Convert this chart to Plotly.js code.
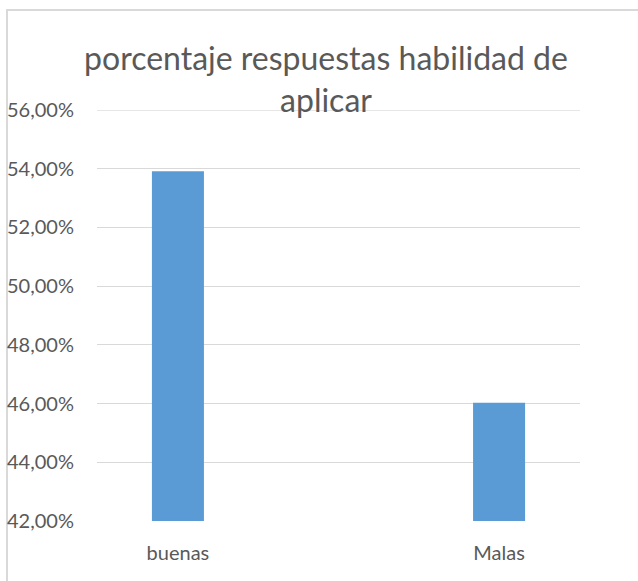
<!DOCTYPE html>
<html>
<head>
<meta charset="utf-8">
<script src="https://cdn.plot.ly/plotly-3.0.1.min.js"></script>
<style>
  html, body { margin: 0; padding: 0; background: #fff; }
  #frame { position: absolute; left: 6px; top: 9px; width: 640px; height: 580px;
           border-left: 2px solid #d9d9d9; border-top: 2px solid #d9d9d9; }
  #chart { position: absolute; left: 0; top: 0; width: 638px; height: 581px; }
</style>
</head>
<body>
<div id="frame"></div>
<div id="chart"></div>
<script>
const categories = ["buenas", "Malas"];
const values = [0.5392, 0.4603];
const yTicks = [0.42, 0.44, 0.46, 0.48, 0.50, 0.52, 0.54, 0.56];
const titleText = "porcentaje respuestas habilidad de<br>aplicar";

const trace = {
  type: "bar",
  x: categories,
  y: values,
  width: 0.162,
  marker: { color: "#5b9bd5" },
  hoverinfo: "none"
};

const layout = {
  width: 638,
  height: 581,
  paper_bgcolor: "rgba(0,0,0,0)",
  plot_bgcolor: "rgba(0,0,0,0)",
  separators: ",.",
  margin: { l: 97, r: 58, t: 110, b: 60 },
  font: { family: "Lato, 'Open Sans', sans-serif", color: "#595959" },
  title: {
    text: titleText,
    font: { size: 32, color: "#595959", family: "Lato, 'Open Sans', sans-serif" },
    x: 0.5 + 7 / 638, xanchor: "center", xref: "container",
    y: 1 - 70 / 581, yanchor: "top", yref: "container"
  },
  showlegend: false,
  shapes: [{
    type: "line", xref: "paper", yref: "y", layer: "below",
    x0: 0, x1: 1, y0: yTicks[yTicks.length - 1], y1: yTicks[yTicks.length - 1],
    line: { color: "#d9d9d9", width: 1 }
  }],
  xaxis: {
    type: "category",
    range: [-0.252, 1.252],
    showgrid: false,
    showline: false,
    zeroline: false,
    ticks: "",
    tickfont: { size: 20, color: "#595959" },
    ticklabelstandoff: 18
  },
  yaxis: {
    range: [0.41995, 0.56005],
    tickvals: yTicks,
    tickformat: ".2%",
    showgrid: true,
    gridcolor: "#d9d9d9",
    gridwidth: 1,
    zeroline: false,
    showline: false,
    ticks: "",
    tickfont: { size: 20, color: "#595959" },
    ticklabelstandoff: 22
  }
};

Plotly.newPlot("chart", [trace], layout, { displayModeBar: false, staticPlot: true });
</script>
</body>
</html>
